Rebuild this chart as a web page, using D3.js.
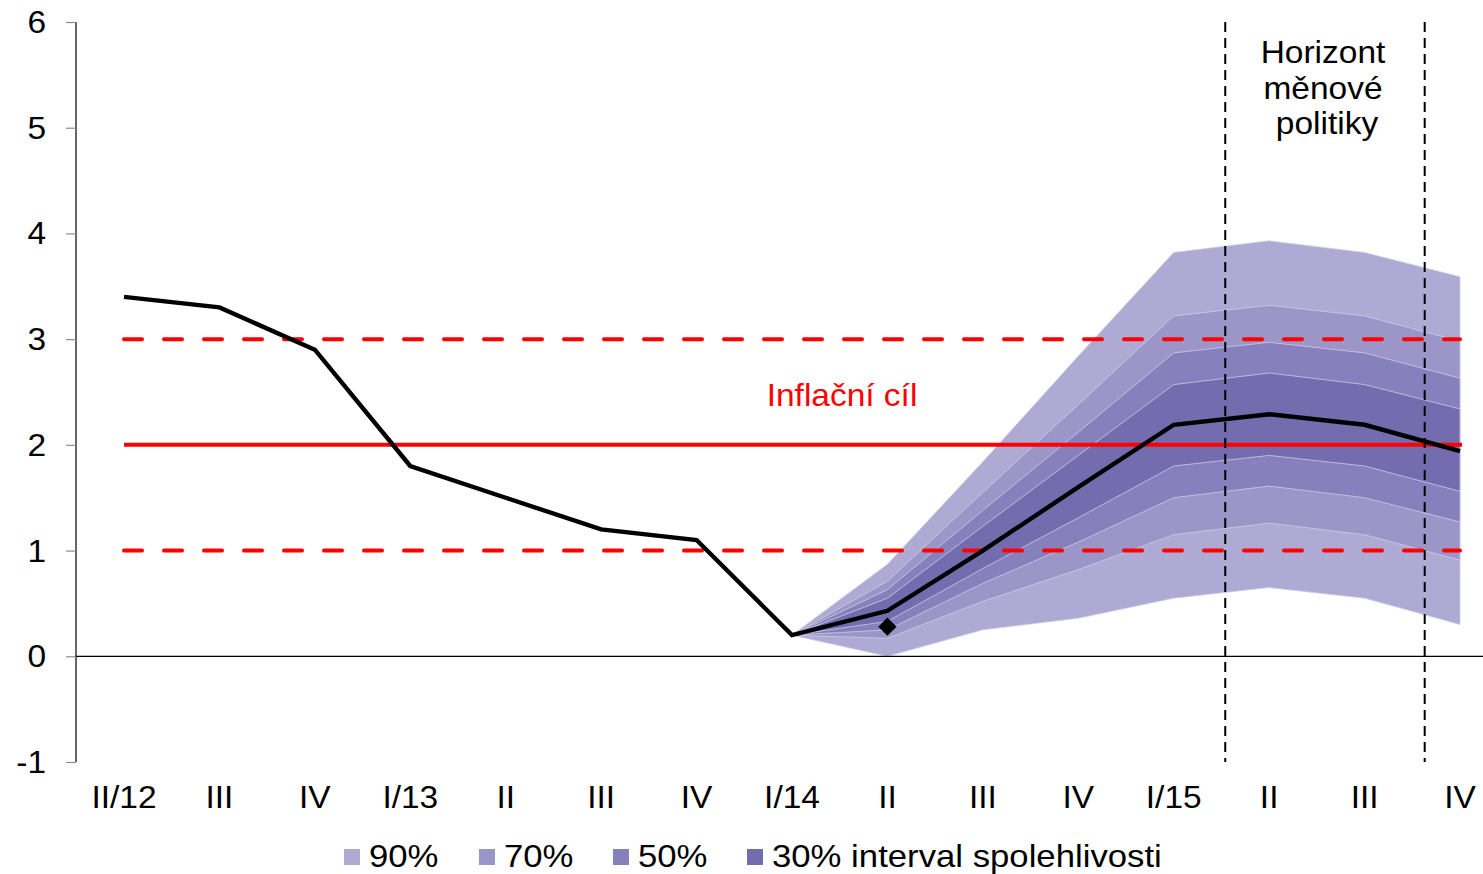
<!DOCTYPE html>
<html>
<head>
<meta charset="utf-8">
<script src="https://cdn.jsdelivr.net/npm/d3@7"></script>
<style>
  body { margin: 0; background: #fff; }
  svg { display: block; font-family: "Liberation Sans", Arial, sans-serif; }
</style>
</head>
<body>
<div id="chart"></div>
<script>
// kvartaly
const categories = ["II/12", "III", "IV", "I/13", "II", "III", "IV", "I/14", "II", "III", "IV", "I/15", "II", "III", "IV"];
// skutecnost + prognoza
const inflation = [3.4, 3.3, 2.9, 1.8, 1.5, 1.2, 1.1, 0.2, 0.43, 1.0, 1.6, 2.19, 2.29, 2.19, 1.94];
// skutecnost v II/14
const actualPoint = { index: 8, value: 0.28 };
// pas nejistoty od I/14 (index 7)
const fanStart = 7;
const band90Lo = [0.2, 0.0, 0.25, 0.36, 0.55, 0.65, 0.55, 0.30];
const band90Hi = [0.2, 0.87, 1.84, 2.84, 3.82, 3.93, 3.82, 3.59];
const band70Lo = [0.2, 0.17, 0.52, 0.82, 1.15, 1.26, 1.15, 0.91];
const band70Hi = [0.2, 0.71, 1.55, 2.38, 3.22, 3.32, 3.22, 2.98];
const band50Lo = [0.2, 0.25, 0.69, 1.08, 1.50, 1.61, 1.50, 1.27];
const band50Hi = [0.2, 0.63, 1.38, 2.12, 2.87, 2.97, 2.87, 2.63];
const band30Lo = [0.2, 0.33, 0.83, 1.31, 1.80, 1.90, 1.80, 1.56];
const band30Hi = [0.2, 0.55, 1.23, 1.90, 2.57, 2.68, 2.57, 2.34];
const target = 2, targetLo = 1, targetHi = 3;
// horizont menove politiky (pozice v indexech kvartalu)
const horizon = [11.54, 13.63];
const yTicks = [-1, 0, 1, 2, 3, 4, 5, 6];
const legendLabels = ["90%", "70%", "50%", "30% interval spolehlivosti"];
const bandColors = ["#afaad4", "#9b95c8", "#8680bc", "#736daf"];

const width = 1483, height = 874;
const fontSize = 31;
const stretch = 1.08; // puvodni texty jsou trochu roztazene
const svg = d3.select("#chart").append("svg")
  .attr("width", width)
  .attr("height", height);

const x = d3.scaleLinear().domain([0, categories.length - 1]).range([124, 1460]);
const y = d3.scaleLinear().domain([-1, 6]).range([762, 22]);
const axisX = 76;

function label(parent, tx, ty, txt, anchor, color, sx) {
  return parent.append("g")
    .attr("transform", `translate(${tx},${ty}) scale(${sx || stretch},1)`)
    .append("text")
    .attr("text-anchor", anchor)
    .attr("font-size", fontSize)
    .attr("fill", color || "#000")
    .text(txt);
}

// pasy
const bands = [[band90Lo, band90Hi], [band70Lo, band70Hi], [band50Lo, band50Hi], [band30Lo, band30Hi]];
const area = d3.area()
  .x((d, i) => x(fanStart + i))
  .y0(d => y(d[0]))
  .y1(d => y(d[1]));
svg.append("g")
  .selectAll("path")
  .data(bands)
  .enter()
  .append("path")
  .attr("d", b => area(b[0].map((v, i) => [v, b[1][i]])))
  .attr("fill", (b, i) => bandColors[i])
  .attr("stroke", "#cfcbe6")
  .attr("stroke-width", 0.8);

// nulova linie
svg.append("line")
  .attr("x1", axisX).attr("x2", width)
  .attr("y1", y(0)).attr("y2", y(0))
  .attr("stroke", "#000").attr("stroke-width", 1.2);

// inflacni cil
const first = x(0), last = x(categories.length - 1);
svg.append("line")
  .attr("x1", first).attr("x2", last + 2)
  .attr("y1", y(target)).attr("y2", y(target))
  .attr("stroke", "#ff0000").attr("stroke-width", 4);
[targetLo, targetHi].forEach(v => {
  svg.append("line")
    .attr("x1", first).attr("x2", last)
    .attr("y1", y(v)).attr("y2", y(v))
    .attr("stroke", "#ff0000").attr("stroke-width", 4)
    .attr("stroke-linecap", "round")
    .attr("stroke-dasharray", "18,22");
});

// horizont
svg.append("g")
  .selectAll("line")
  .data(horizon)
  .enter()
  .append("line")
  .attr("x1", d => x(d)).attr("x2", d => x(d))
  .attr("y1", y(6)).attr("y2", y(-1))
  .attr("stroke", "#000").attr("stroke-width", 2)
  .attr("stroke-dasharray", "10,6");

// prognoza
const line = d3.line()
  .x((d, i) => x(i))
  .y(d => y(d));
svg.append("path")
  .attr("d", line(inflation))
  .attr("fill", "none")
  .attr("stroke", "#000")
  .attr("stroke-width", 4.4)
  .attr("stroke-linejoin", "miter");

svg.append("path")
  .attr("d", d3.symbol(d3.symbolSquare, 165)())
  .attr("transform", `translate(${x(actualPoint.index)},${y(actualPoint.value)}) rotate(45)`)
  .attr("fill", "#000");

// osa y
const yAxis = svg.append("g")
  .attr("transform", `translate(${axisX},0)`)
  .call(d3.axisLeft(y).tickValues(yTicks).tickSize(10).tickPadding(20).tickFormat(d => String(d)));
yAxis.select(".domain").attr("stroke", "#000").attr("stroke-width", 1.2).attr("d", `M0,${y(6)}V${y(-1)}`);
yAxis.selectAll(".tick line").attr("stroke", "#8c8c8c").attr("stroke-width", 1.2);
yAxis.selectAll(".tick text").remove();
yTicks.forEach(t => label(svg, 46, y(t) + 11, String(t), "end"));

// popisky x
categories.forEach((c, i) => label(svg, x(i), 808, c, "middle"));

// texty
label(svg, 842, 406, "Inflační cíl", "middle", "#ff0000");
const horizonText = ["Horizont", "měnové", "politiky"];
horizonText.forEach((t, i) => label(svg, i == 2 ? 1327 : 1323, 63 + i * 35.5, t, "middle"));

// legenda
const legendX = [344, 479, 613, 747];
const legend = svg.append("g");
legendLabels.forEach((t, i) => {
  legend.append("rect")
    .attr("x", legendX[i]).attr("y", 849)
    .attr("width", 16).attr("height", 16)
    .attr("fill", bandColors[i]);
  label(legend, legendX[i] + 25, 867, t, "start", "#000", 1.12);
});
</script>
</body>
</html>
